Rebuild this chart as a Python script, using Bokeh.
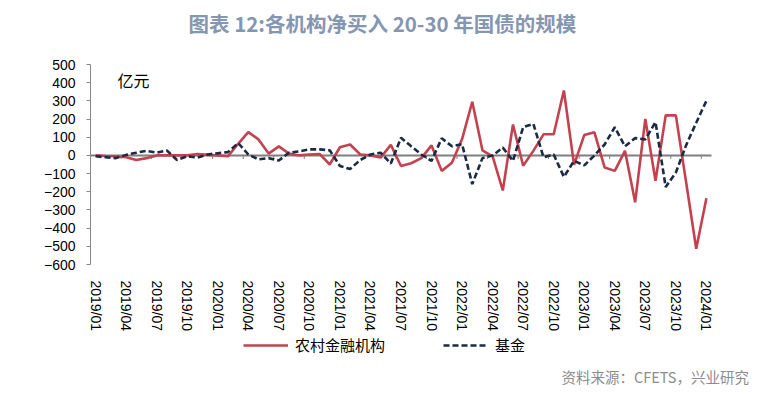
from bokeh.plotting import figure
from bokeh.layouts import column
from bokeh.models import Range1d, Label, Legend, LegendItem, FixedTicker
from bokeh.embed import file_html
from bokeh.resources import INLINE

# Monthly series 2019/01 .. 2024/01 (亿元)
rural = [0, -3, -5, -10, -25, -15, 0, 0, 0, 0, 8, 3,
         0, -5, 64, 128, 88, 10, 50, 10, 0, 5, 8, -50,
         45, 60, 5, 0, -12, 58, -58, -43, -15, 55, -85, -40,
         90, 295, 28, -5, -193, 170, -57, 25, 116, 116, 357, -52,
         112, 127, -66, -85, 25, -258, 201, -139, 220, 220, -145, -513,
         -236]
fund = [-5, -10, -15, 3, 15, 25, 15, 27, -25, -5, -12, 5,
        12, 18, 68, 5, -22, -15, -28, 15, 22, 33, 33, 28,
        -58, -75, -25, 5, 15, -45, 97, 50, 5, -30, 94, 50,
        62, -158, -15, 0, 43, -30, 155, 174, -10, 5, -118, -30,
        -55, 0, 60, 155, 50, 95, 88, 183, -174, -94, 55, 180,
        300]
tick_labels = ["2019/01", "2019/04", "2019/07", "2019/10",
               "2020/01", "2020/04", "2020/07", "2020/10",
               "2021/01", "2021/04", "2021/07", "2021/10",
               "2022/01", "2022/04", "2022/07", "2022/10",
               "2023/01", "2023/04", "2023/07", "2023/10",
               "2024/01"]
y_ticks = [-600, -500, -400, -300, -200, -100, 0, 100, 200, 300, 400, 500]
series_names = ["农村金融机构", "基金"]
title_text = "图表 12:各机构净买入 20-30 年国债的规模"
unit_text = "亿元"
source_text = "资料来源：CFETS，兴业研究"

RED = "#c4424f"
NAVY = "#1b2a45"
W = 758
LEFT = 90
FW = W - LEFT           # frame width shared by all strips
CAT_PX = 621 / 61.0     # pixels per month

x = list(range(len(rural)))
label_pos = list(range(0, len(rural), 3))
boundary_ticks = [i - 0.5 for i in label_pos]
x0, x1 = -0.5, len(rural) - 0.5


def strip(h):
    f = figure(frame_width=FW, frame_height=h, x_range=Range1d(0, 1), y_range=Range1d(0, 1),
               output_backend="svg", toolbar_location=None, x_axis_type=None, y_axis_type=None,
               min_border_left=LEFT, min_border_right=0, min_border_top=0, min_border_bottom=0)
    f.outline_line_color = None
    f.grid.visible = False
    return f


# ---- title strip
p0 = strip(54)
p0.add_layout(Label(x=98, y=32, x_units="screen", y_units="screen", text=title_text,
                    text_align="left", text_baseline="middle",
                    text_font="Noto Sans CJK SC", text_font_style="bold",
                    text_font_size="20.5px", text_color="#8496b0"))

# ---- main chart
p = figure(frame_width=FW, frame_height=200,
           x_range=Range1d(x0, x0 + FW / CAT_PX), y_range=Range1d(-600, 500),
           output_backend="svg", toolbar_location=None,
           min_border_left=LEFT, min_border_right=0, min_border_top=10, min_border_bottom=60)
p.outline_line_color = None
p.grid.visible = False

p.yaxis.ticker = FixedTicker(ticks=y_ticks)
p.yaxis.axis_line_color = "#868686"
p.yaxis.major_tick_line_color = "#868686"
p.yaxis.major_tick_out = 4
p.yaxis.major_tick_in = 0
p.yaxis.minor_tick_line_color = None
p.yaxis.major_label_text_font = "Liberation Sans"
p.yaxis.major_label_text_font_size = "14px"
p.yaxis.major_label_text_color = "black"
p.yaxis.major_label_standoff = 11

p.xaxis.ticker = FixedTicker(ticks=label_pos)
p.xaxis.major_label_overrides = {i: lab for i, lab in zip(label_pos, tick_labels)}
p.xaxis.major_label_orientation = "vertical"
p.xaxis.axis_line_color = None
p.xaxis.major_tick_line_color = None
p.xaxis.minor_tick_line_color = None
p.xaxis.major_label_text_font = "Liberation Sans"
p.xaxis.major_label_text_font_size = "14px"
p.xaxis.major_label_text_color = "black"
p.xaxis.major_label_standoff = 10

# zero line across the categories, with tick marks at category boundaries
p.segment(x0=[x0], y0=[0], x1=[x1], y1=[0], line_color="#7f7f7f", line_width=2)
p.segment(x0=boundary_ticks, y0=[0] * len(boundary_ticks), x1=boundary_ticks,
          y1=[-20] * len(boundary_ticks), line_color="#7f7f7f", line_width=1)

p.line(x, rural, line_color=RED, line_width=2.6)
p.line(x, fund, line_color=NAVY, line_width=2.6, line_dash="6 3")

p.add_layout(Label(x=27, y=185, x_units="screen", y_units="screen", text=unit_text,
                   text_align="left", text_baseline="middle",
                   text_font="Noto Sans CJK SC", text_font_size="16px", text_color="black"))

# ---- legend + source strip
p2 = strip(55)
l1 = p2.line(x, rural, line_color=RED, line_width=2.6, visible=False)
l2 = p2.line(x, fund, line_color=NAVY, line_width=2.6, line_dash="6 3", visible=False)
legend = Legend(items=[LegendItem(label=series_names[0], renderers=[l1]),
                       LegendItem(label=series_names[1], renderers=[l2])],
                location=(153, 34), orientation="horizontal")
legend.border_line_color = None
legend.background_fill_alpha = 0
legend.padding = 0
legend.margin = 0
legend.spacing = 58
legend.glyph_width = 45
legend.glyph_height = 20
legend.label_height = 20
legend.label_standoff = 7
legend.label_text_font = "Noto Sans CJK SC"
legend.label_text_font_size = "15px"
legend.label_text_color = "black"
p2.add_layout(legend, "center")

p2.add_layout(Label(x=471, y=13, x_units="screen", y_units="screen", text=source_text,
                    text_align="left", text_baseline="middle",
                    text_font="Noto Sans CJK SC", text_font_size="14.5px", text_color="#8c8c8c"))

layout = column(p0, p, p2, spacing=0)
open("out.html", "w").write(file_html(layout, INLINE))
